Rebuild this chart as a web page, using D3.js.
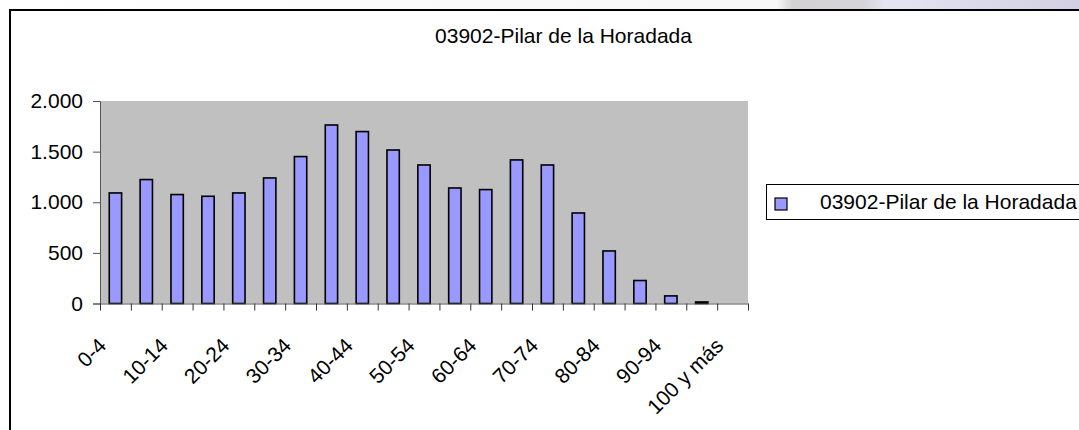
<!DOCTYPE html>
<html>
<head>
<meta charset="utf-8">
<script src="https://cdn.jsdelivr.net/npm/d3@7"></script>
<style>
  body { margin: 0; background: #fff; }
  svg { display: block; font-family: "Liberation Sans", Arial, sans-serif; }
</style>
</head>
<body>
<svg id="grafico"></svg>
<script>
// datos
const titulo = "03902-Pilar de la Horadada";
const grupos = ["0-4", "5-9", "10-14", "15-19", "20-24", "25-29", "30-34", "35-39",
  "40-44", "45-49", "50-54", "55-59", "60-64", "65-69", "70-74", "75-79",
  "80-84", "85-89", "90-94", "95-99", "100 y más"];
const poblacion = [1092, 1224, 1076, 1059, 1092, 1240, 1451, 1763, 1698, 1516,
  1368, 1141, 1125, 1418, 1368, 894, 519, 227, 75, 15, 0];
const ticksY = [0, 500, 1000, 1500, 2000];

const ancho = 1079, alto = 430;
const area = { left: 100, right: 748, top: 101, bottom: 303.5 };

const svg = d3.select("#grafico").attr("width", ancho).attr("height", alto);

// franja de fondo arriba (imagen de la página detrás)
const fondo = svg.append("defs").append("linearGradient").attr("id", "fondo");
fondo.append("stop").attr("offset", "0").attr("stop-color", "#ffffff");
fondo.append("stop").attr("offset", "0.72").attr("stop-color", "#f7f7f7");
fondo.append("stop").attr("offset", "0.735").attr("stop-color", "#d4d2d4");
fondo.append("stop").attr("offset", "0.8").attr("stop-color", "#d6d4d8");
fondo.append("stop").attr("offset", "0.82").attr("stop-color", "#e4e4f2");
fondo.append("stop").attr("offset", "1").attr("stop-color", "#d2d0e2");
svg.append("rect").attr("x", 0).attr("y", 0).attr("width", ancho).attr("height", 10)
  .attr("fill", "url(#fondo)");

// marco del gráfico
svg.append("path")
  .attr("d", `M10,${alto} V10 H${ancho}`)
  .attr("fill", "none").attr("stroke", "#000").attr("stroke-width", 2);

const es = d3.formatLocale({ decimal: ",", thousands: ".", grouping: [3], currency: ["", " €"] });

const x = d3.scaleBand().domain(grupos)
  .range([area.left, area.right]).paddingInner(0.6).paddingOuter(0.3);
const xBordes = d3.scaleLinear().domain([0, grupos.length]).range([area.left, area.right]);
const y = d3.scaleLinear().domain([0, 2000]).range([area.bottom, area.top]);

// área de trazado
svg.append("rect")
  .attr("x", area.left).attr("y", area.top)
  .attr("width", area.right - area.left).attr("height", area.bottom - area.top)
  .attr("fill", "#c0c0c0");

// barras
svg.append("g").selectAll("rect")
  .data(poblacion)
  .join("rect")
  .attr("x", (d, i) => x(grupos[i]))
  .attr("y", d => y(d))
  .attr("width", x.bandwidth())
  .attr("height", d => y(0) - y(d))
  .attr("fill", "#9999ff")
  .attr("stroke", "#000")
  .attr("stroke-width", 1.6);

// eje Y
const ejeY = svg.append("g")
  .attr("transform", `translate(${area.left},0)`)
  .call(d3.axisLeft(y).tickValues(ticksY).tickFormat(es.format(",d")).tickSize(7).tickPadding(10));
ejeY.select(".domain").attr("stroke", "#555");
ejeY.selectAll(".tick line").attr("stroke", "#555");
ejeY.selectAll("text").attr("font-size", 21).attr("fill", "#000")
  .attr("font-family", "'Liberation Sans', Arial, sans-serif");

// eje X (marcas entre categorías)
const ejeX = svg.append("g")
  .attr("transform", `translate(0,${area.bottom})`)
  .call(d3.axisBottom(xBordes).tickValues(d3.range(grupos.length + 1)).tickFormat("").tickSize(7).tickSizeOuter(0));
ejeX.select(".domain").attr("stroke", "#555");
ejeX.selectAll(".tick line").attr("stroke", "#333");

// etiquetas X giradas, una de cada dos
svg.append("g").selectAll("text")
  .data(grupos.filter((g, i) => i % 2 === 0))
  .join("text")
  .attr("transform", d => `translate(${x(d) + x.bandwidth() / 2 - 8},${area.bottom + 43.5}) rotate(-45)`)
  .attr("text-anchor", "end")
  .attr("font-size", 21)
  .attr("fill", "#000")
  .text(d => d);

// título
svg.append("text")
  .attr("x", 563.5).attr("y", 43)
  .attr("text-anchor", "middle")
  .attr("font-size", 21)
  .text(titulo);

// leyenda
svg.append("rect")
  .attr("x", 766.5).attr("y", 184.5).attr("width", 330).attr("height", 35)
  .attr("fill", "#fff").attr("stroke", "#000").attr("stroke-width", 1);
svg.append("rect")
  .attr("x", 775).attr("y", 198).attr("width", 12).attr("height", 12)
  .attr("fill", "#9999ff").attr("stroke", "#000").attr("stroke-width", 1.2);
svg.append("text")
  .attr("x", 820).attr("y", 209)
  .attr("font-size", 21)
  .text(titulo);
</script>
</body>
</html>
